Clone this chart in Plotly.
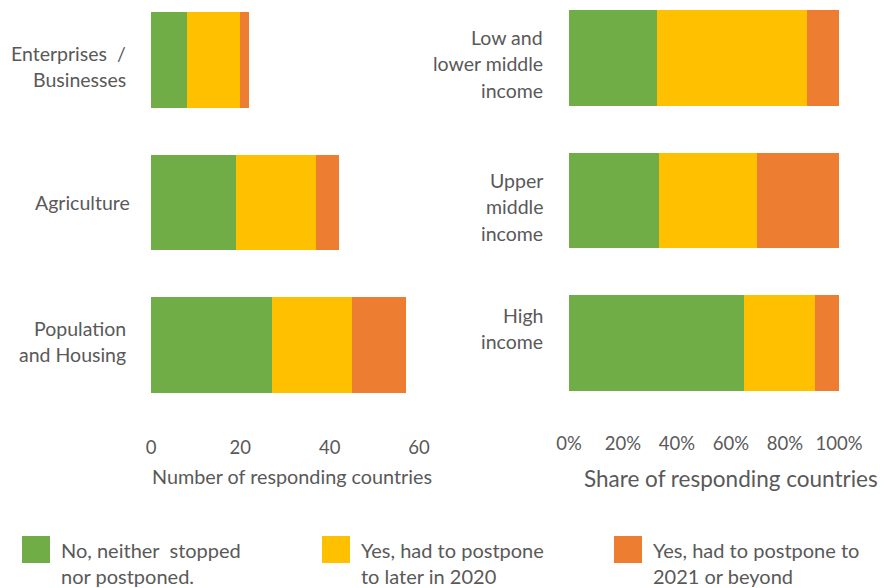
import plotly.graph_objects as go

# ---------------- data ----------------
series_names = ["No, neither  stopped<br>nor postponed.",
                "Yes, had to postpone<br>to later in 2020",
                "Yes, had to postpone to<br>2021 or beyond"]
colors = ["#70AD47", "#FFC000", "#ED7D31"]

left_categories = ["Enterprises  /<br>Businesses", "Agriculture", "Population<br>and Housing"]
left_no = [8, 19, 27]
left_later2020 = [12, 18, 18]
left_2021 = [2, 5, 12]

right_categories = ["Low and<br>lower middle<br>income", "Upper<br>middle<br>income", "High<br>income"]
right_no = [0.325, 0.333, 0.649]
right_later2020 = [0.558, 0.363, 0.261]
right_2021 = [0.117, 0.304, 0.090]

left_ticks = [0, 20, 40, 60]
right_ticks = [0, 0.2, 0.4, 0.6, 0.8, 1.0]
right_ticklabels = ["0%", "20%", "40%", "60%", "80%", "100%"]

left_title = "Number of responding countries"
right_title = "Share of responding countries"

# ---------------- layout constants ----------------
W, H = 884, 588
FONT = "Lato"
GRAY = "#595959"

fig = go.Figure()
left_vals = [left_no, left_later2020, left_2021]
right_vals = [right_no, right_later2020, right_2021]
idx = list(range(len(left_categories)))

for k in range(3):
    fig.add_trace(go.Bar(y=idx, x=left_vals[k], orientation="h",
                         marker=dict(color=colors[k], line=dict(width=0)),
                         name=series_names[k], showlegend=False,
                         xaxis="x", yaxis="y"))
    fig.add_trace(go.Bar(y=idx, x=right_vals[k], orientation="h",
                         marker=dict(color=colors[k], line=dict(width=0)),
                         name=series_names[k], showlegend=False,
                         xaxis="x2", yaxis="y2"))

def px_x(p):
    return p / W

def px_y(p):
    return 1 - p / H

yrange = [2.6, -0.4]
fig.update_layout(
    width=W, height=H, autosize=False,
    margin=dict(l=0, r=0, t=0, b=0, pad=0),
    paper_bgcolor="white", plot_bgcolor="white",
    barmode="stack", bargap=0.333,
    font=dict(family=FONT, color=GRAY, size=18),
    showlegend=False,
    xaxis=dict(domain=[px_x(151), px_x(419)], range=[0, 60],
               tickvals=left_ticks, showgrid=False, zeroline=False,
               showline=False, ticks="", ticklabelstandoff=4,
               tickfont=dict(size=18.5, color=GRAY, family=FONT),
               anchor="y", automargin=False),
    yaxis=dict(domain=[px_y(430.5), px_y(3)], range=yrange,
               showticklabels=False, showgrid=False, zeroline=False,
               showline=False, anchor="x", automargin=False),
    xaxis2=dict(domain=[px_x(569), px_x(839)], range=[0, 1],
                tickvals=right_ticks, ticktext=right_ticklabels,
                showgrid=False, zeroline=False, showline=False, ticks="",
                ticklabelstandoff=2,
                tickfont=dict(size=18.5, color=GRAY, family=FONT),
                anchor="y2", automargin=False),
    yaxis2=dict(domain=[px_y(428.5), px_y(1)], range=yrange,
                showticklabels=False, showgrid=False, zeroline=False,
                showline=False, anchor="x2", automargin=False),
)

annotations = []
LINE = 26.5
# category labels (per line, right aligned); right edge and first-line vertical pixel position
label_specs = [(left_categories, [128, 132, 128], [53, 202, 328]),
               (right_categories, [545, 545, 545], [37, 180, 315])]
for cats, xpx, first_y in label_specs:
    for i, c in enumerate(cats):
        for j, ln in enumerate(c.split("<br>")):
            annotations.append(dict(x=px_x(xpx[i]), y=px_y(first_y[i] + j * LINE),
                                    xref="paper", yref="paper",
                                    text=ln, showarrow=False, xanchor="right",
                                    yanchor="middle",
                                    font=dict(size=19.5, color=GRAY, family=FONT)))

# axis titles
annotations.append(dict(x=px_x(292), y=px_y(476), xref="paper", yref="paper",
                        text=left_title, showarrow=False, xanchor="center",
                        yanchor="middle", font=dict(size=19.8, color=GRAY, family=FONT)))
annotations.append(dict(x=px_x(731), y=px_y(478), xref="paper", yref="paper",
                        text=right_title, showarrow=False, xanchor="center",
                        yanchor="middle", font=dict(size=22.5, color=GRAY, family=FONT)))

# custom legend
shapes = []
legend_x = [22, 322, 614]
for k in range(3):
    x0 = legend_x[k]
    shapes.append(dict(type="rect", xref="paper", yref="paper",
                       x0=px_x(x0), x1=px_x(x0 + 28), y0=px_y(563), y1=px_y(536),
                       fillcolor=colors[k], line=dict(width=0)))
    for j, ln in enumerate(series_names[k].split("<br>")):
        annotations.append(dict(x=px_x(x0 + 37), y=px_y(550 + j * 26), xref="paper", yref="paper",
                                text=ln, showarrow=False, xanchor="left", yanchor="middle",
                                font=dict(size=20, color=GRAY, family=FONT)))

fig.update_layout(annotations=annotations, shapes=shapes)
fig.write_html(
    "out.html",
    config={"displayModeBar": False},
    post_script="document.body.style.margin='0';document.documentElement.style.overflow='hidden';document.body.style.overflow='hidden';",
)
